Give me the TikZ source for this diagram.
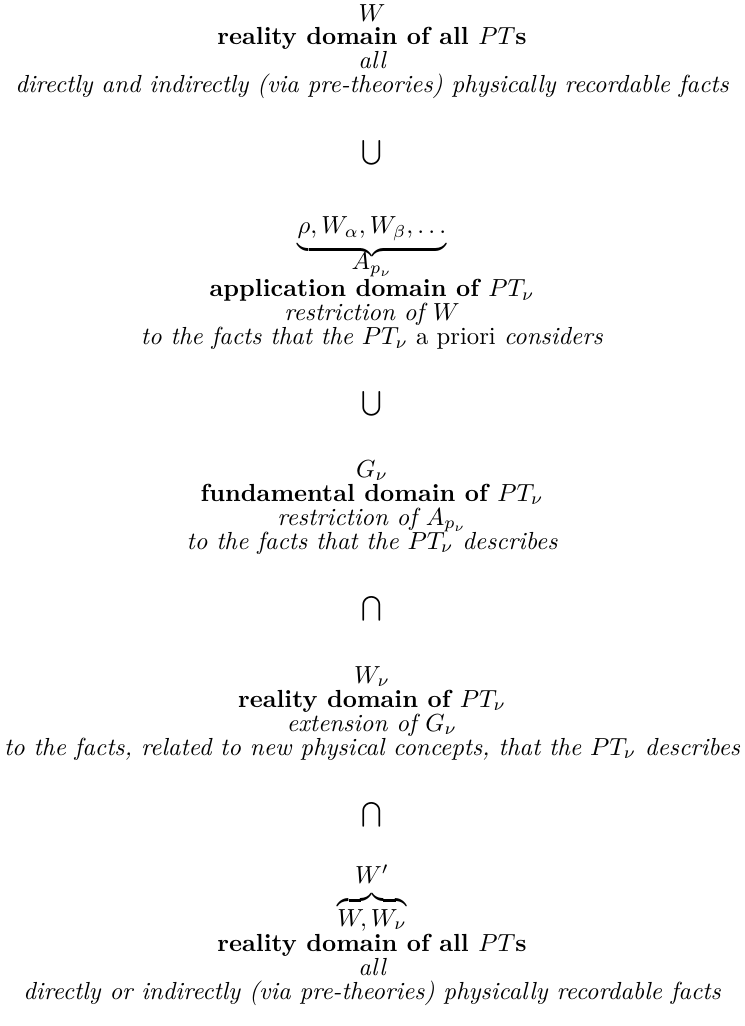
\documentclass[tikz,border=0pt]{standalone}
\usepackage{amsmath}
\begin{document}
\begin{tikzpicture}[x=0.4049pt,y=-0.4049pt,
  line/.style={anchor=base,inner sep=0pt,outer sep=0pt},
  head/.style={line,font=\bfseries},
  note/.style={line,font=\itshape},
  rel/.style={anchor=center,inner sep=0pt,outer sep=0pt}]
\useasboundingbox (0,0) rectangle (744,1026);

% all physically recordable facts
\node[line] (W) at (372,22) {$W$};
\node[head] (Whead) at (372,45) {reality domain of all $PT$s};
\node[note] (Wall) at (372,69) {all};
\node[note] (Wfacts) at (372,93) {directly and indirectly (via pre-theories) physically recordable facts};

\node[rel] (sup1) at (372,153) {$\textstyle\bigcup$};

% application domain
\node[line] (Aset) at (372,234) {$\underbrace{\rho, W_\alpha, W_\beta, \ldots}$};
\node[line] (A) at (372,270) {$A_{p_\nu}$};
\node[head] (Ahead) at (372,297) {application domain of $PT_\nu$};
\node[note] (Arestr) at (372,321) {restriction of $W$};
\node[line] (Afacts) at (372,345) {\textit{to the facts that the $PT_\nu$} a priori \textit{considers}};

\node[rel] (sup2) at (372,404) {$\textstyle\bigcup$};

% fundamental domain
\node[line] (G) at (372,477) {$G_\nu$};
\node[head] (Ghead) at (372,501) {fundamental domain of $PT_\nu$};
\node[note] (Grestr) at (372,525) {restriction of $A_{p_\nu}$};
\node[note] (Gfacts) at (372,549) {to the facts that the $PT_\nu$ describes};

\node[rel] (sub1) at (372,609) {$\textstyle\bigcap$};

% reality domain of the theory
\node[line] (Wn) at (372,683) {$W_\nu$};
\node[head] (Wnhead) at (372,707) {reality domain of $PT_\nu$};
\node[note] (Wnext) at (372,731) {extension of $G_\nu$};
\node[note] (Wnfacts) at (372,755) {to the facts, related to new physical concepts, that the $PT_\nu$ describes};

\node[rel] (sub2) at (372,815) {$\textstyle\bigcap$};

% combined reality domain
\node[line] (Wprime) at (372,883) {$W'$};
\node[line] (Wp) at (372,926) {$\overbrace{W, W_\nu}$};
\node[head] (Wphead) at (372,951) {reality domain of all $PT$s};
\node[note] (Wpall) at (372,975) {all};
\node[note] (Wpfacts) at (372,999) {directly or indirectly (via pre-theories) physically recordable facts};
\end{tikzpicture}
\end{document}
